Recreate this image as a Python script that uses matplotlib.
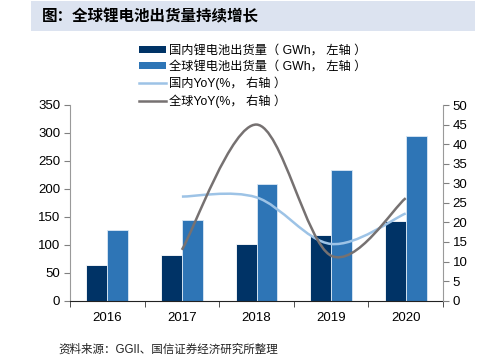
import matplotlib
matplotlib.use("Agg")
import matplotlib.pyplot as plt
from matplotlib.path import Path
from matplotlib.patches import PathPatch, Patch, Rectangle
from matplotlib.lines import Line2D
import numpy as np

plt.rcParams['font.family'] = ['Liberation Sans', 'Noto Sans CJK SC', 'DejaVu Sans']

years = ["2016", "2017", "2018", "2019", "2020"]
domestic = [64, 81, 102, 117, 142.5]
glob = [127, 144, 208, 233, 294]
yoy_years = ["2017", "2018", "2019", "2020"]
domestic_yoy = [26.6, 26.4, 14.5, 22.3]
global_yoy = [13, 45, 11.5, 26.2]

c_dom = "#003366"
c_glob = "#2e75b6"
c_dom_yoy = "#9dc3e6"
c_glob_yoy = "#767171"


def smooth_path(xs, ys):
    # excel-like smoothed line: catmull-rom turned into cubic bezier
    pts = np.column_stack([xs, ys]).astype(float)
    verts = [pts[0]]
    codes = [Path.MOVETO]
    n = len(pts)
    for i in range(n - 1):
        p0 = pts[i - 1] if i > 0 else pts[i]
        p1 = pts[i]
        p2 = pts[i + 1]
        p3 = pts[i + 2] if i + 2 < n else pts[i + 1]
        c1 = p1 + (p2 - p0) / 6
        c2 = p2 - (p3 - p1) / 6
        verts += [c1, c2, p2]
        codes += [Path.CURVE4] * 3
    return Path(verts, codes)


fig = plt.figure(figsize=(4.83, 3.64), dpi=100)
fig.patches.append(Rectangle((31 / 483, 1 - 30.5 / 364), 444 / 483, 29 / 364,
                             transform=fig.transFigure, facecolor="#dce3f0",
                             edgecolor="none", zorder=0))
fig.text(42 / 483, 1 - 16 / 364, "图：全球锂电池出货量持续增长", fontsize=11.2,
         fontweight="bold", family=["Noto Sans CJK SC"], va="center", ha="left")

ax = fig.add_axes([70 / 483, 1 - 300.7 / 364, 373 / 483, 195.7 / 364])
x = np.arange(len(years))
w = 0.28
ax.bar(x - w / 2, domestic, w, color=c_dom, edgecolor="white", linewidth=0.6, zorder=2)
ax.bar(x + w / 2, glob, w, color=c_glob, edgecolor="#dbe8f5", linewidth=0.6, zorder=2)
ax.set_xlim(-0.5, len(years) - 0.5)
ax.set_ylim(0, 350)
ax.set_yticks(range(0, 351, 50))
ax.set_xticks(x)
ax.set_xticklabels(years)
ax.set_xticks(np.arange(-0.5, len(years)), minor=True)
ax.tick_params(axis="x", which="major", length=0, pad=8, labelsize=9.5)
ax.tick_params(axis="x", which="minor", length=4, direction="out", color="#333333")
ax.tick_params(axis="y", length=4, direction="out", color="#808080", labelsize=9.5, pad=3)
ax.spines["top"].set_visible(False)
ax.spines["right"].set_visible(False)
ax.spines["left"].set_color("#9a9a9a")
ax.spines["bottom"].set_color("#222222")

ax2 = ax.twinx()
ax2.set_ylim(0, 50)
ax2.set_yticks(range(0, 51, 5))
ax2.tick_params(axis="y", length=4, direction="out", color="#808080", labelsize=9.5, pad=3)
for s in ["top", "left", "bottom"]:
    ax2.spines[s].set_visible(False)
ax2.spines["right"].set_color("#9a9a9a")

yx = np.array([years.index(y) for y in yoy_years])
ax2.add_patch(PathPatch(smooth_path(yx, domestic_yoy), facecolor="none",
                        edgecolor=c_dom_yoy, linewidth=1.8, zorder=3))
ax2.add_patch(PathPatch(smooth_path(yx, global_yoy), facecolor="none",
                        edgecolor=c_glob_yoy, linewidth=1.8, zorder=4))

handles = [
    Patch(facecolor=c_dom, edgecolor="none"),
    Patch(facecolor=c_glob, edgecolor="none"),
    Line2D([], [], color=c_dom_yoy, linewidth=1.8),
    Line2D([], [], color=c_glob_yoy, linewidth=1.8),
]
labels = ["国内锂电池出货量（ GWh， 左轴 ）", "全球锂电池出货量（ GWh， 左轴 ）",
          "国内YoY(%， 右轴 ）", "全球YoY(%， 右轴 ）"]
leg = fig.legend(handles, labels, loc="upper left", bbox_to_anchor=(139 / 483, 1 - 45 / 364),
                 frameon=False, fontsize=8.8, handlelength=2.2, handleheight=0.5,
                 handletextpad=0.25, labelspacing=0.32, borderpad=0, borderaxespad=0)

fig.text(58 / 483, 1 - 350 / 364, "资料来源：GGII、国信证券经济研究所整理", fontsize=8.3,
         va="center", ha="left", color="#222222")

fig.savefig("out.png", dpi=100)
